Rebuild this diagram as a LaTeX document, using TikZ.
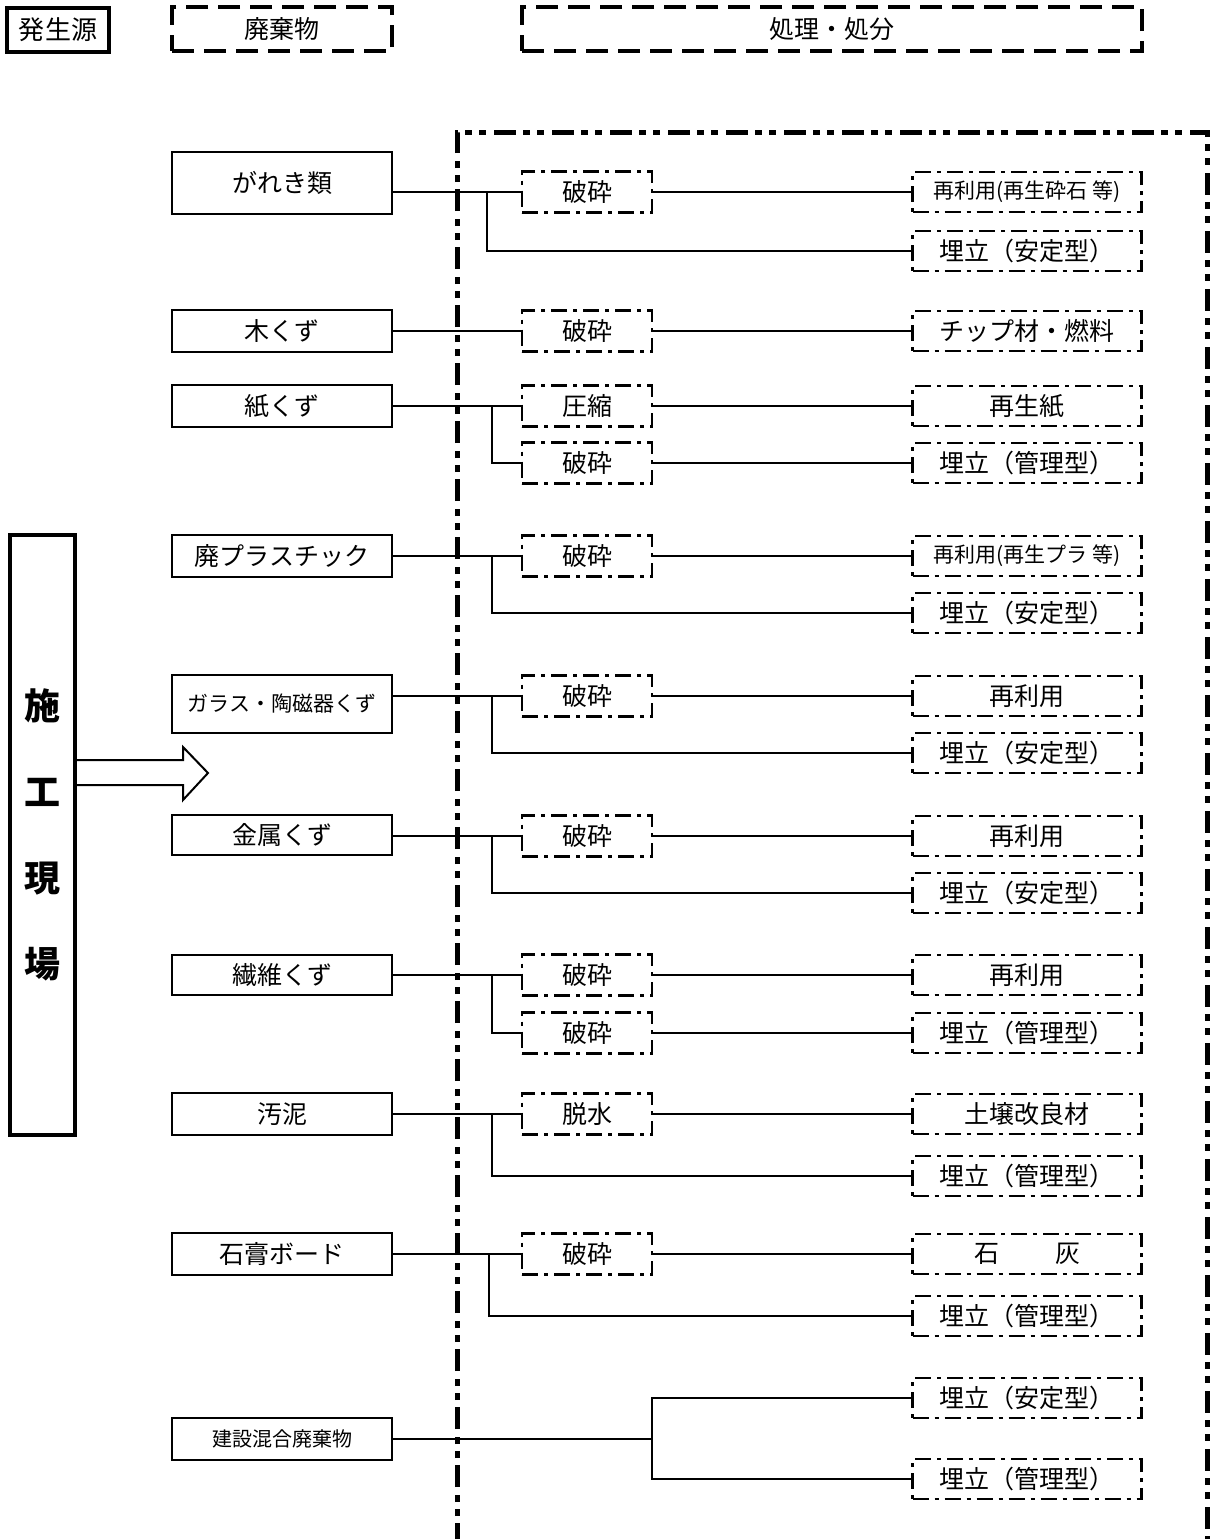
\documentclass[tikz,border=0pt]{standalone}
\usepackage{fontspec}
\setmainfont{Noto Sans CJK JP}
\begin{document}
\begin{tikzpicture}[x=1pt,y=-1pt,
  every node/.style={inner sep=0pt,font=\fontsize{25}{29}\selectfont},
  srcbox/.style={draw,line width=4pt,minimum width=102pt,minimum height=44pt},
  hdrbox/.style={draw,line width=4pt,dash pattern=on 22pt off 10pt,minimum height=44pt},
  wastebox/.style={draw,line width=2pt,minimum width=220pt,minimum height=42pt},
  procbox/.style={draw,line width=2.2pt,dash pattern=on 16pt off 6pt on 4pt off 6pt,minimum width=130pt,minimum height=41pt},
  endbox/.style={procbox,minimum width=229pt,minimum height=40pt},
  link/.style={line width=1.7pt},
  outer/.style={line width=5pt,dash pattern=on 22pt off 7pt on 7pt off 7pt on 7pt off 8pt}]
      \useasboundingbox (0,0) rectangle (1212,1539);

      \node[srcbox,font=\fontsize{26}{30}\selectfont] (src) at (58,30) {発生源};
      \node[hdrbox,minimum width=220pt] (hwaste) at (282,29) {廃棄物};
      \node[hdrbox,minimum width=620pt] (hproc) at (832,29) {処理・処分};

      \draw[outer] (457,1545) -- (457,132) -- (1207,132) -- (1207,1545);

      \node[draw,line width=4pt,minimum width=65pt,minimum height=600pt,align=center,
        font=\bfseries\fontsize{36}{86}\selectfont] (site) at (42,835) {施\\工\\現\\場};
      \draw[line width=2pt] (75,760) -- (183,760) -- (183,747) -- (208,773)
        -- (183,800) -- (183,785) -- (75,785);

      \node[wastebox,minimum height=62pt] (gareki) at (282,183) {がれき類};
      \node[wastebox] (moku) at (282,331) {木くず};
      \node[wastebox] (kami) at (282,406) {紙くず};
      \node[wastebox] (pura) at (282,556) {廃プラスチック};
      \node[wastebox,minimum height=58pt,font=\fontsize{21}{25}\selectfont] (glass) at (282,704) {ガラス・陶磁器くず};
      \node[wastebox,minimum height=40pt] (kinzoku) at (282,835) {金属くず};
      \node[wastebox,minimum height=40pt] (seni) at (282,975) {繊維くず};
      \node[wastebox] (odei) at (282,1114) {汚泥};
      \node[wastebox] (sekko) at (282,1254) {石膏ボード};
      \node[wastebox,font=\fontsize{20}{24}\selectfont] (konsan) at (282,1439) {建設混合廃棄物};

      \node[procbox] (hasai1) at (587,192) {破砕};
      \node[procbox] (hasai2) at (587,331) {破砕};
      \node[procbox] (assyuku) at (587,406) {圧縮};
      \node[procbox] (hasai3) at (587,463) {破砕};
      \node[procbox] (hasai4) at (587,556) {破砕};
      \node[procbox] (hasai5) at (587,696) {破砕};
      \node[procbox] (hasai6) at (587,836) {破砕};
      \node[procbox] (hasai7) at (587,975) {破砕};
      \node[procbox] (hasai8) at (587,1033) {破砕};
      \node[procbox] (dassui) at (587,1114) {脱水};
      \node[procbox] (hasai9) at (587,1254) {破砕};

      \node[endbox,font=\fontsize{21}{25}\selectfont] (saiseki) at (1027,192) {再利用(再生砕石\ 等)};
      \node[endbox] (anteiA) at (1027,251) {埋立（安定型）};
      \node[endbox] (chip) at (1027,331) {チップ材・燃料};
      \node[endbox] (saiseishi) at (1027,406) {再生紙};
      \node[endbox] (kanriA) at (1027,463) {埋立（管理型）};
      \node[endbox,font=\fontsize{21}{25}\selectfont] (saipura) at (1027,556) {再利用(再生プラ\ 等)};
      \node[endbox] (anteiB) at (1027,613) {埋立（安定型）};
      \node[endbox] (riyouA) at (1027,696) {再利用};
      \node[endbox] (anteiC) at (1027,753) {埋立（安定型）};
      \node[endbox] (riyouB) at (1027,836) {再利用};
      \node[endbox] (anteiD) at (1027,893) {埋立（安定型）};
      \node[endbox] (riyouC) at (1027,975) {再利用};
      \node[endbox] (kanriB) at (1027,1033) {埋立（管理型）};
      \node[endbox] (dojou) at (1027,1114) {土壌改良材};
      \node[endbox] (kanriC) at (1027,1176) {埋立（管理型）};
      \node[endbox] (sekkai) at (1027,1254) {石\hspace{56pt}灰};
      \node[endbox] (kanriD) at (1027,1316) {埋立（管理型）};
      \node[endbox] (anteiE) at (1027,1398) {埋立（安定型）};
      \node[endbox] (kanriE) at (1027,1479) {埋立（管理型）};

      \coordinate (br1) at (487,192);
      \coordinate (br3) at (492,406);
      \coordinate (br4) at (492,556);
      \coordinate (br5) at (492,696);
      \coordinate (br6) at (492,836);
      \coordinate (br7) at (492,975);
      \coordinate (br8) at (492,1114);
      \coordinate (br9) at (489,1254);
      \coordinate (br10) at (652,1439);

      \draw[link] (gareki.east |- hasai1.west) -- (hasai1.west);
      \draw[link] (hasai1) -- (saiseki);
      \draw[link] (br1) |- (anteiA.west);

      \draw[link] (moku) -- (hasai2);
      \draw[link] (hasai2) -- (chip);

      \draw[link] (kami) -- (assyuku);
      \draw[link] (assyuku) -- (saiseishi);
      \draw[link] (br3) |- (hasai3.west);
      \draw[link] (hasai3) -- (kanriA);

      \draw[link] (pura) -- (hasai4);
      \draw[link] (hasai4) -- (saipura);
      \draw[link] (br4) |- (anteiB.west);

      \draw[link] (glass.east |- hasai5.west) -- (hasai5.west);
      \draw[link] (hasai5) -- (riyouA);
      \draw[link] (br5) |- (anteiC.west);

      \draw[link] (kinzoku.east |- hasai6.west) -- (hasai6.west);
      \draw[link] (hasai6) -- (riyouB);
      \draw[link] (br6) |- (anteiD.west);

      \draw[link] (seni) -- (hasai7);
      \draw[link] (hasai7) -- (riyouC);
      \draw[link] (br7) |- (hasai8.west);
      \draw[link] (hasai8) -- (kanriB);

      \draw[link] (odei) -- (dassui);
      \draw[link] (dassui) -- (dojou);
      \draw[link] (br8) |- (kanriC.west);

      \draw[link] (sekko) -- (hasai9);
      \draw[link] (hasai9) -- (sekkai);
      \draw[link] (br9) |- (kanriD.west);

      \draw[link] (konsan) -- (br10);
      \draw[link] (anteiE.west) -| (br10) |- (kanriE.west);
\end{tikzpicture}
\end{document}
